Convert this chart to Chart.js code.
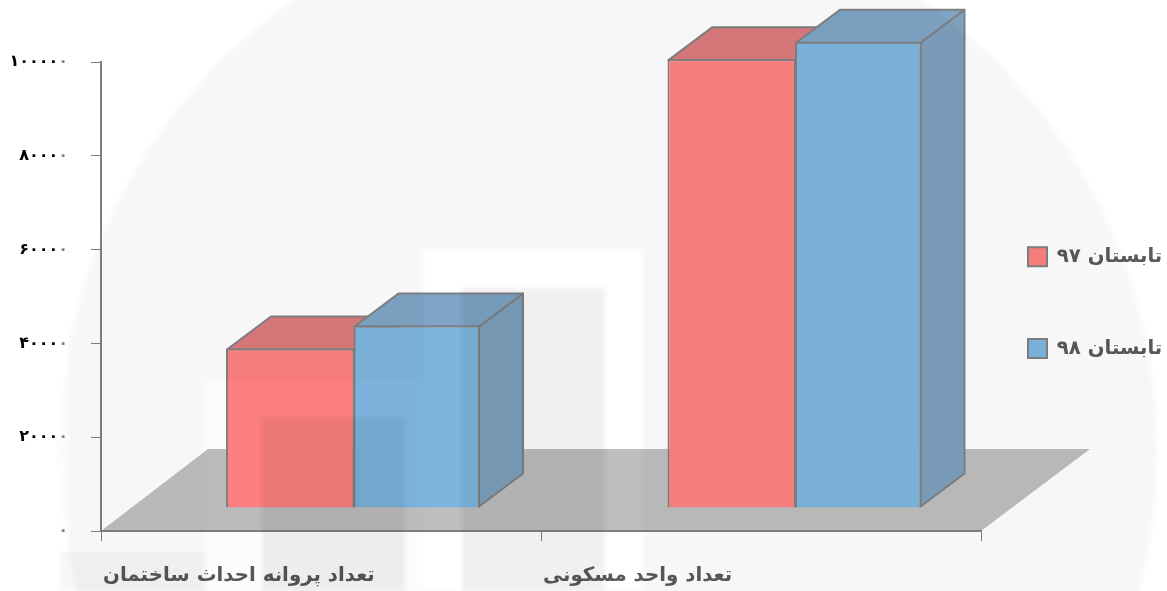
<!DOCTYPE html>
<html lang="fa">
<head>
<meta charset="utf-8">
<style>html,body{margin:0;padding:0;background:#fff}canvas{display:block}</style>
<script src="https://cdn.jsdelivr.net/npm/chart.js@4/dist/chart.umd.min.js"></script>
</head>
<body>
<canvas id="c" width="1167" height="591"></canvas>
<script>
const categories = ['تعداد پروانه احداث ساختمان', 'تعداد واحد مسکونی'];
const seriesNames = ['تابستان ۹۷', 'تابستان ۹۸'];
const summer97 = [34000, 95700];
const summer98 = [38900, 99400];
const yTickLabels = ['۰', '۲۰۰۰۰', '۴۰۰۰۰', '۶۰۰۰۰', '۸۰۰۰۰', '۱۰۰۰۰۰'];

const FONT = '"DejaVu Sans"';
const SHIFT_X = [32.5, 34], SHIFT_Y = -23, DEPTH_X = 44, DEPTH_Y = -33;
const faces = [
  {front: '#ff8080', top: '#dc7b7c', side: '#dc7b7c'},
  {front: '#7eb5de', top: '#7ea5c6', side: '#7ea1be'}
];

function poly(ctx, pts, fill) {
  ctx.beginPath();
  pts.forEach((p, i) => i ? ctx.lineTo(p[0], p[1]) : ctx.moveTo(p[0], p[1]));
  ctx.closePath();
  ctx.fillStyle = fill;
  ctx.fill();
  ctx.lineWidth = 2;
  ctx.strokeStyle = '#808080';
  ctx.lineJoin = 'round';
  ctx.stroke();
}

const scene3d = {
  id: 'scene3d',
  afterLayout(chart) {
    const lg = chart.legend;
    lg.left = 1028 - 72;
    lg.top = 175;
    lg.right = 1167;
    lg.bottom = 591;
  },
  beforeDraw(chart) {
    const {ctx} = chart, a = chart.chartArea;
    ctx.save();
    ctx.fillStyle = '#fff';
    ctx.fillRect(0, 0, chart.width, chart.height);
    ctx.beginPath();
    ctx.moveTo(a.left, a.bottom);
    ctx.lineTo(a.left + 107, a.bottom - 82);
    ctx.lineTo(a.right + 109, a.bottom - 82);
    ctx.lineTo(a.right, a.bottom);
    ctx.closePath();
    ctx.fillStyle = '#bebebe';
    ctx.fill();
    ctx.restore();
  },
  beforeDatasetsDraw(chart) {
    const {ctx} = chart;
    [0, 1].forEach(di => {
      const meta = chart.getDatasetMeta(di), c = faces[di];
      meta.data.forEach((b, i) => {
        const sx = SHIFT_X[i];
        const l = b.x - b.width / 2 + sx + 1, r = b.x + b.width / 2 + sx - 1;
        const t = b.y + SHIFT_Y + 1, u = b.base + SHIFT_Y - 1;
        ctx.save();
        poly(ctx, [[r, t], [r + DEPTH_X, t + DEPTH_Y], [r + DEPTH_X, u + DEPTH_Y], [r, u]], c.side);
        poly(ctx, [[l, t], [l + DEPTH_X, t + DEPTH_Y], [r + DEPTH_X, t + DEPTH_Y], [r, t]], c.top);
        ctx.translate(sx, SHIFT_Y);
        b.draw(ctx);
        ctx.restore();
      });
    });
    return false;
  },
  afterDraw(chart) {
    const {ctx} = chart;
    ctx.save();
    // watermark lying over the whole picture
    ctx.filter = 'blur(2px)';
    ctx.beginPath();
    ctx.arc(608, 450, 549, 0, Math.PI * 2);
    ctx.rect(423, 250, 220, 341);
    ctx.rect(205, 380, 218, 211);
    ctx.fillStyle = 'rgba(0,0,0,0.03)';
    ctx.fill('evenodd');
    ctx.fillStyle = 'rgba(0,0,0,0.012)';
    ctx.fillRect(205, 380, 218, 211);
    ctx.fillStyle = 'rgba(0,0,0,0.06)';
    ctx.fillRect(462, 288, 143, 303);
    ctx.fillRect(262, 418, 143, 173);
    ctx.fillStyle = 'rgba(0,0,0,0.03)';
    ctx.fillRect(60, 552, 145, 39);
    ctx.filter = 'none';
    ctx.fillStyle = 'rgba(255,255,255,0.5)';
    ctx.fillRect(59, 45, 10, 500);
    ctx.restore();
  }
};

new Chart(document.getElementById('c'), {
  type: 'bar',
  data: {
    labels: categories,
    datasets: [
      {label: seriesNames[0], data: summer97, backgroundColor: faces[0].front, borderColor: '#808080', borderWidth: 2, barPercentage: 1.016},
      {label: seriesNames[1], data: summer98, backgroundColor: faces[1].front, borderColor: '#808080', borderWidth: 2}
    ]
  },
  options: {
    responsive: false,
    animation: false,
    layout: {padding: {left: 0, right: 186, top: 62, bottom: 0}},
    datasets: {bar: {barPercentage: 1, categoryPercentage: 0.575}},
    plugins: {
      tooltip: {enabled: false},
      legend: {
        position: 'chartArea',
        align: 'start',
        labels: {
          boxWidth: 19, boxHeight: 19, padding: 72,
          color: '#595959',
          font: {family: FONT, size: 19.7, weight: 'bold'}
        }
      }
    },
    scales: {
      x: {
        afterFit(s) { s.height = 60; },
        grid: {drawOnChartArea: false, color: '#808080', tickLength: 10, offset: true},
        border: {color: '#808080', width: 2},
        ticks: {
          align: 'start', labelOffset: -218, padding: 23, maxRotation: 0,
          color: '#595959',
          font: {family: FONT, size: 19.8, weight: 'bold'}
        }
      },
      y: {
        min: 0, max: 100000,
        afterFit(s) { s.width = 101; },
        grid: {drawOnChartArea: false, color: '#808080', tickLength: 10},
        border: {color: '#808080', width: 2},
        ticks: {
          stepSize: 20000, padding: 23,
          color: '#000',
          font: {family: FONT, size: 16, weight: 'bold'},
          callback: (v, i) => yTickLabels[i]
        }
      }
    }
  },
  plugins: [scene3d]
});
</script>
</body>
</html>
